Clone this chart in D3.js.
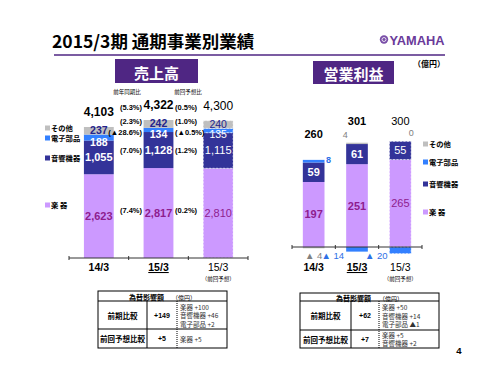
<!DOCTYPE html>
<html>
<head>
<meta charset="utf-8">
<script src="https://cdn.jsdelivr.net/npm/d3@7"></script>
<style>
  body { margin: 0; background: #fff; }
  text { font-family: "Liberation Sans", Arial, "Noto Sans CJK JP", sans-serif; }
  .jp { font-family: "Noto Sans CJK JP", sans-serif; }
</style>
</head>
<body>
<div id="container"></div>
<script>
/* DATA */
const categories = ["14/3", "15/3", "15/3"];
const segments = ["楽器", "音響機器", "電子部品", "その他"];

// 売上高 (億円)
const salesInstruments = [2623, 2817, 2810];
const salesAudio = [1055, 1128, 1115];
const salesElectronic = [188, 134, 135];
const salesOther = [237, 242, 240];
const salesTotal = [4103, 4322, 4300];
// bottom -> top: 楽器, 音響機器, 電子部品, その他, 合計
const salesYoY = ["(7.4%)", "(7.0%)", "(▲28.6%)", "(2.3%)", "(5.3%)"];
const salesVsPlan = ["(0.2%)", "(1.2%)", "(▲0.5%)", "(1.0%)", "(0.5%)"];

// 営業利益 (億円)
const profitInstruments = [197, 251, 265];
const profitAudio = [59, 61, 55];
const profitElectronic = [8, -14, -20];
const profitOther = [-4, 4, 0];
const profitTotal = [260, 301, 300];

// 為替影響額 tables
const salesFx = [
  { label: "前期比較", value: "+149", detail: ["楽器 +100", "音響機器 +46", "電子部品 +2"] },
  { label: "前回予想比較", value: "+5", detail: ["楽器 +5"] }
];
const profitFx = [
  { label: "前期比較", value: "+62", detail: ["楽器 +50", "音響機器 +14", "電子部品 ▲1"] },
  { label: "前回予想比較", value: "+7", detail: ["楽器 +5", "音響機器 +2"] }
];

/* CONSTANTS */
const width = 500, height = 375;
const colors = { "楽器": "#cc99ff", "音響機器": "#333399", "電子部品": "#3380ff", "その他": "#bfbfbf" };
const purple = "#4f2683";
const labelPurple = "#8e1c8e";
const navy = "#23238c";

const svg = d3.select("#container").append("svg")
  .attr("width", width).attr("height", height)
  .style("background", "#fff");

// title
svg.append("text").attr("class", "jp")
  .attr("x", 52).attr("y", 48)
  .attr("font-size", 17.5).attr("font-weight", 700)
  .text("2015/3期 通期事業別業績");

svg.append("line")
  .attr("x1", 54).attr("x2", 445).attr("y1", 55).attr("y2", 55)
  .attr("stroke", purple).attr("stroke-width", 1.5);

// logo
const logo = svg.append("g");
logo.append("circle").attr("cx", 384).attr("cy", 39.5).attr("r", 4.2).attr("fill", "#7a4fa8");
logo.append("circle").attr("cx", 384).attr("cy", 39.5).attr("r", 2).attr("fill", "none")
  .attr("stroke", "#fff").attr("stroke-width", 0.8);
logo.append("text").attr("x", 389.5).attr("y", 44.5)
  .attr("font-size", 13).attr("font-weight", 700).attr("fill", "#6a3a9a")
  .attr("textLength", 55).attr("lengthAdjust", "spacingAndGlyphs")
  .text("YAMAHA");

// section header boxes
function headerBox(x, y, w, h, label) {
  svg.append("rect").attr("x", x).attr("y", y).attr("width", w).attr("height", h).attr("fill", purple);
  svg.append("text").attr("class", "jp")
    .attr("x", x + w / 2).attr("y", y + h / 2 + 1)
    .attr("text-anchor", "middle").attr("dominant-baseline", "central")
    .attr("font-size", 15).attr("font-weight", 700).attr("fill", "#fff")
    .text(label);
}
headerBox(115, 59, 83, 24, "売上高");
headerBox(313, 61, 81, 23, "営業利益");

svg.append("text").attr("class", "jp")
  .attr("x", 429).attr("y", 67).attr("text-anchor", "middle")
  .attr("font-size", 8).attr("font-weight", 700).text("（億円）");

/* helper: build stacked series */
function buildStack(inst, audio, elec, other) {
  const rows = categories.map((c, i) => ({
    i: i, "楽器": inst[i], "音響機器": audio[i], "電子部品": elec[i], "その他": other[i]
  }));
  return d3.stack().keys(segments).offset(d3.stackOffsetDiverging)(rows);
}

function drawAxis(g, x, y0) {
  const r = x.range();
  const step = x.step();
  const ticks = [r[0]].concat(categories.map((c, i) => x(i) + x.bandwidth() + step * x.paddingInner() / 2));
  g.append("line").attr("x1", r[0]).attr("x2", r[1]).attr("y1", y0).attr("y2", y0)
    .attr("stroke", "#333").attr("stroke-width", 1);
  g.selectAll("line.tick").data(ticks).join("line").attr("class", "tick")
    .attr("x1", d => d).attr("x2", d => d).attr("y1", y0 - 2).attr("y2", y0 + 2)
    .attr("stroke", "#333");
}

function drawCategoryLabels(g, x, yText) {
  g.selectAll("text.cat").data(categories).join("text").attr("class", "cat")
    .attr("x", (d, i) => x(i) + x.bandwidth() / 2).attr("y", yText)
    .attr("text-anchor", "middle")
    .attr("font-size", 10.5)
    .attr("font-weight", (d, i) => i < 2 ? 700 : 400)
    .attr("text-decoration", (d, i) => i === 1 ? "underline" : null)
    .text(d => d);
  g.append("text").attr("class", "jp")
    .attr("x", x(2) + x.bandwidth() / 2).attr("y", yText + 10)
    .attr("text-anchor", "middle").attr("font-size", 5.5)
    .text("（前回予想）");
}

function drawLegend(g, xPos, yList) {
  const order = ["その他", "電子部品", "音響機器", "楽器"];
  const names = { "楽器": "楽 器", "音響機器": "音響機器", "電子部品": "電子部品", "その他": "その他" };
  order.forEach((k, j) => {
    g.append("rect").attr("x", xPos).attr("y", yList[j] - 2.5).attr("width", 5).attr("height", 5)
      .attr("fill", colors[k]);
    g.append("text").attr("class", "jp")
      .attr("x", xPos + 6).attr("y", yList[j]).attr("dominant-baseline", "central")
      .attr("font-size", 7.3).attr("font-weight", 700).text(names[k]);
  });
}

function drawBars(g, stack, x, y) {
  stack.forEach(series => {
    g.selectAll(null).data(series).join("rect")
      .attr("x", d => x(d.data.i))
      .attr("width", x.bandwidth())
      .attr("y", d => y(Math.max(d[0], d[1])))
      .attr("height", d => Math.abs(y(d[0]) - y(d[1])))
      .attr("fill", colors[series.key])
      .attr("stroke", d => d.data.i === 2 ? "#fff" : "none")
      .attr("stroke-opacity", 0.75)
      .attr("stroke-dasharray", "2,1.5")
      .attr("stroke-width", 0.8);
  });
}

/* ===== 売上高 ===== */
const gS = svg.append("g");
const xS = d3.scaleBand().domain([0, 1, 2]).range([69, 248]).paddingInner(0.5).paddingOuter(0.25);
const yS = d3.scaleLinear().domain([0, 4400]).range([258, 117.5]);
const stackS = buildStack(salesInstruments, salesAudio, salesElectronic, salesOther);
drawBars(gS, stackS, xS, yS);
drawAxis(gS, xS, 258);
drawCategoryLabels(gS, xS, 271);
drawLegend(gS, 45, [128, 138, 158, 205]);

const segStyle = {
  "楽器": { fill: labelPurple, pos: d => (yS(d[0]) + yS(d[1])) / 2, size: 11 },
  "音響機器": { fill: "#fff", pos: d => (yS(d[0]) + yS(d[1])) / 2, size: 11 },
  "電子部品": { fill: "#fff", pos: d => yS(d[0]) + 1.5, size: 10.5 },
  "その他": { fill: navy, pos: d => yS(d[1]) + 3, size: 10.5 }
};
stackS.forEach(series => {
  const st = segStyle[series.key];
  gS.selectAll(null).data(series).join("text")
    .attr("x", d => xS(d.data.i) + xS.bandwidth() / 2)
    .attr("y", st.pos)
    .attr("text-anchor", "middle").attr("dominant-baseline", "central")
    .attr("font-size", st.size)
    .attr("font-weight", d => d.data.i === 2 ? 400 : 700)
    .attr("fill", st.fill)
    .text(d => d3.format(",")(d[1] - d[0]));
});
gS.selectAll("text.total").data(salesTotal).join("text").attr("class", "total")
  .attr("x", (d, i) => xS(i) + xS.bandwidth() / 2)
  .attr("y", d => yS(d) - 15)
  .attr("text-anchor", "middle").attr("dominant-baseline", "central")
  .attr("font-size", 12).attr("font-weight", (d, i) => i < 2 ? 700 : 400)
  .text(d => d3.format(",")(d));

// percentage annotations
const pctY = [
  (yS(0) + yS(salesInstruments[1])) / 2,
  yS(salesInstruments[1] + salesAudio[1] / 2),
  132, 121, 107
];
gS.selectAll("text.yoy").data(salesYoY).join("text").attr("class", "yoy")
  .attr("x", 142).attr("y", (d, i) => i === 0 ? 210 : pctY[i])
  .attr("text-anchor", "end").attr("dominant-baseline", "central")
  .attr("font-size", 7.5).attr("font-weight", 700).text(d => d);
gS.selectAll("text.plan").data(salesVsPlan).join("text").attr("class", "plan")
  .attr("x", 175).attr("y", (d, i) => i === 0 ? 210 : pctY[i])
  .attr("text-anchor", "start").attr("dominant-baseline", "central")
  .attr("font-size", 7.5).attr("font-weight", 700).text(d => d);
gS.append("text").attr("class", "jp").attr("x", 127).attr("y", 94)
  .attr("text-anchor", "middle").attr("font-size", 5.5).text("前年同期比");
gS.append("text").attr("class", "jp").attr("x", 188).attr("y", 94)
  .attr("text-anchor", "middle").attr("font-size", 5.5).text("前回予想比");

/* ===== 営業利益 ===== */
const gP = svg.append("g");
const xP = d3.scaleBand().domain([0, 1, 2]).range([292, 422]).paddingInner(0.5).paddingOuter(0.25);
const yP = d3.scaleLinear().domain([0, 300]).range([247, 148]);
const stackP = buildStack(profitInstruments, profitAudio, profitElectronic, profitOther);
drawBars(gP, stackP, xP, yP);
drawAxis(gP, xP, 247);
drawCategoryLabels(gP, xP, 271);
drawLegend(gP, 423, [144, 162, 184, 212]);

const cx = i => xP(i) + xP.bandwidth() / 2;
// top of the positive stack of each bar
const posTop = categories.map((c, i) => d3.max(stackP, s => s[i][1]));
stackP.forEach(series => {
  const k = series.key;
  series.forEach(d => {
    const i = d.data.i, v = d.data[k];
    const t = gP.append("text").attr("dominant-baseline", "central");
    if (k === "楽器" || k === "音響機器") {
      t.attr("x", cx(i)).attr("y", (yP(d[0]) + yP(d[1])) / 2)
        .attr("text-anchor", "middle").attr("font-size", 11)
        .attr("font-weight", i === 2 ? 400 : 700)
        .attr("fill", k === "楽器" ? labelPurple : "#fff").text(v);
    } else if (v < 0) {
      const grey = k === "その他";
      t.attr("x", grey ? cx(i) : xP(i) - 2).attr("y", 255)
        .attr("text-anchor", grey ? "middle" : "end").attr("font-size", 9.5)
        .attr("fill", grey ? "#808080" : "#2e6fe6").text("▲ " + (-v));
    } else if (k === "電子部品") {
      t.attr("x", xP(i) + xP.bandwidth() + 4).attr("y", yP(d[1]))
        .attr("text-anchor", "middle").attr("font-size", 9).attr("font-weight", 700)
        .attr("fill", "#2e6fe6").text(v);
    } else {
      t.attr("x", i === 2 ? xP(i) + xP.bandwidth() : xP(i) - 1).attr("y", yP(posTop[i]) - 8)
        .attr("text-anchor", "middle").attr("font-size", 9)
        .attr("fill", "#808080").text(v);
    }
  });
});
gP.selectAll("text.total").data(profitTotal).join("text").attr("class", "total")
  .attr("x", (d, i) => cx(i))
  .attr("y", d => yP(d) - 27)
  .attr("text-anchor", "middle").attr("dominant-baseline", "central")
  .attr("font-size", 11).attr("font-weight", (d, i) => i < 2 ? 700 : 400)
  .text(d => d);

/* ===== 為替影響額 tables ===== */
function drawTable(x0, x1, xc1, xc2, rowsY, rows) {
  const g = svg.append("g");
  g.append("rect").attr("x", x0).attr("y", rowsY[0]).attr("width", x1 - x0)
    .attr("height", rowsY[3] - rowsY[0]).attr("fill", "none").attr("stroke", "#000").attr("stroke-width", 1);
  [rowsY[1], rowsY[2]].forEach(yy => g.append("line").attr("x1", x0).attr("x2", x1)
    .attr("y1", yy).attr("y2", yy).attr("stroke", "#000"));
  g.append("line").attr("x1", xc1).attr("x2", xc1).attr("y1", rowsY[1]).attr("y2", rowsY[3]).attr("stroke", "#000");
  g.append("line").attr("x1", xc2).attr("x2", xc2).attr("y1", rowsY[1]).attr("y2", rowsY[3])
    .attr("stroke", "#000").attr("stroke-dasharray", "1,1");
  const head = g.append("text").attr("class", "jp")
    .attr("x", (x0 + x1) / 2).attr("y", (rowsY[0] + rowsY[1]) / 2 + 0.5)
    .attr("text-anchor", "middle").attr("dominant-baseline", "central");
  head.append("tspan").attr("font-size", 7).attr("font-weight", 700).text("為替影響額");
  head.append("tspan").attr("font-size", 6).attr("dx", 8).text("（億円）");
  rows.forEach((r, j) => {
    const mid = (rowsY[j + 1] + rowsY[j + 2]) / 2;
    g.append("text").attr("class", "jp").attr("x", (x0 + xc1) / 2).attr("y", mid)
      .attr("text-anchor", "middle").attr("dominant-baseline", "central")
      .attr("font-size", 7.5).attr("font-weight", 700).text(r.label);
    g.append("text").attr("x", (xc1 + xc2) / 2).attr("y", mid)
      .attr("text-anchor", "middle").attr("dominant-baseline", "central")
      .attr("font-size", 7).attr("font-weight", 700).text(r.value);
    r.detail.forEach((t, m) => {
      g.append("text").attr("class", "jp").attr("x", xc2 + 3)
        .attr("y", mid + (m - (r.detail.length - 1) / 2) * 8.5)
        .attr("dominant-baseline", "central").attr("font-size", 6.5).attr("fill", "#333").text(t);
    });
  });
}
drawTable(98, 227, 147, 177, [291, 301, 329, 348], salesFx);
drawTable(300, 439, 351, 379, [293, 301, 330, 348], profitFx);

// page number
svg.append("text").attr("x", 459).attr("y", 354).attr("text-anchor", "middle")
  .attr("font-size", 9.5).attr("font-weight", 700).text("4");
</script>
</body>
</html>
